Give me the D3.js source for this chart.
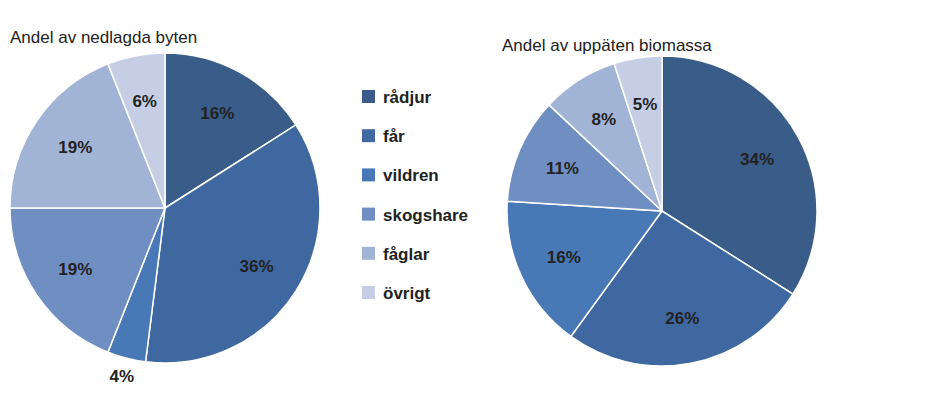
<!DOCTYPE html>
<html><head><meta charset="utf-8">
<script src="https://cdn.jsdelivr.net/npm/d3@7"></script>
<style>body{margin:0;background:#fff}</style></head>
<body><svg id="c" width="936" height="409"></svg>
<script>
const categories=["rådjur","får","vildren","skogshare","fåglar","övrigt"];
const colors=["#395C89","#3F68A0","#4878B6","#6F8EC2","#A2B4D5","#C6CEE5"];
const killed=[16,36,4,19,19,6];
const biomass=[34,26,16,11,8,5];
const titles=["Andel av nedlagda byten","Andel av uppäten biomassa"];
const svg=d3.select("#c");
const font="'Liberation Sans', Arial, sans-serif";
function pie(vals,cx,cy,r,title,tx,ty,outside){
  const g=svg.append("g").attr("transform",`translate(${cx},${cy})`);
  const arcs=d3.pie().sort(null)(vals);
  const arc=d3.arc().innerRadius(0).outerRadius(r);
  g.selectAll("path").data(arcs).join("path").attr("d",arc)
    .attr("fill",(d,i)=>colors[i]).attr("stroke","#fff").attr("stroke-width",1.5);
  g.selectAll("text").data(arcs).join("text")
    .attr("transform",(d,i)=>{const rr=outside.includes(i)?r*1.12:r*0.7;
      const a=(d.startAngle+d.endAngle)/2;return `translate(${Math.sin(a)*rr},${-Math.cos(a)*rr})`;})
    .attr("text-anchor","middle").attr("dy","0.35em")
    .attr("font-family",font).attr("font-weight","bold").attr("font-size",17).attr("fill","#222")
    .text(d=>d.data+"%");
  svg.append("text").attr("x",tx).attr("y",ty).attr("font-family",font).attr("font-size",17).attr("fill","#222").text(title);
}
pie(killed,165,208,155,titles[0],10,43,[2]);
pie(biomass,662,211,155,titles[1],502,51,[]);
const lg=svg.append("g");
categories.forEach((c,i)=>{
  const y=97+i*39.2;
  lg.append("rect").attr("x",362).attr("y",y-7).attr("width",13).attr("height",13).attr("fill",colors[i]);
  lg.append("text").attr("x",383).attr("y",y).attr("dy","0.35em").attr("font-family",font)
    .attr("font-weight","bold").attr("font-size",17).attr("fill","#222").text(c);
});
</script></body></html>
